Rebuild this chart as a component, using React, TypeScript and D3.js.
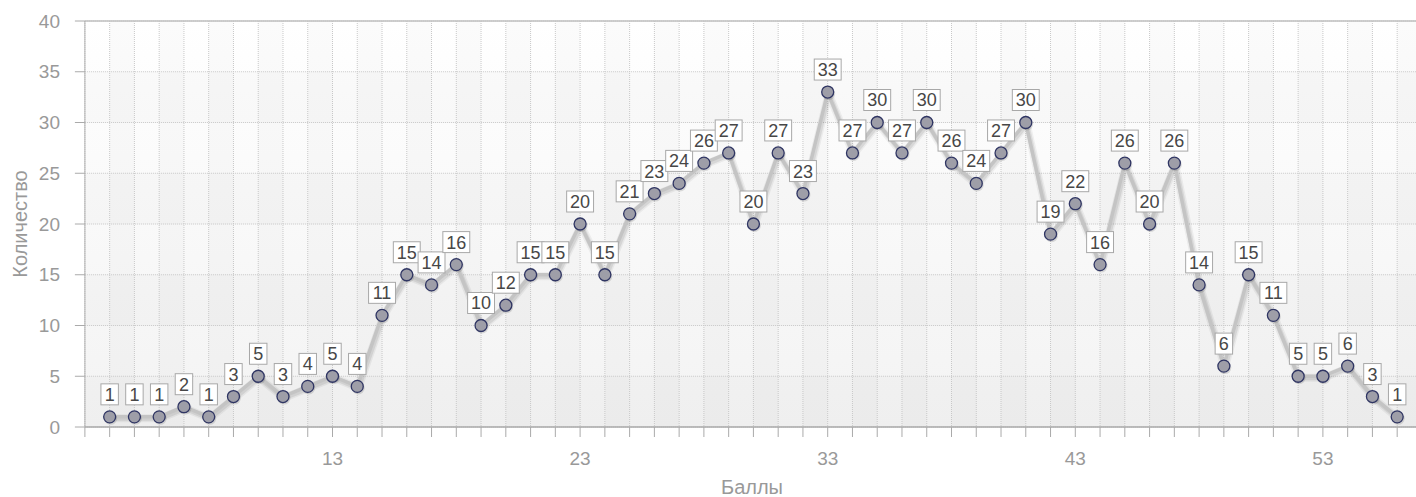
import React from "react";
import * as d3 from "d3";

const scores = [4, 5, 6, 7, 8, 9, 10, 11, 12, 13, 14, 15, 16, 17, 18, 19, 20, 21, 22, 23, 24, 25, 26, 27, 28, 29, 30, 31, 32, 33, 34, 35, 36, 37, 38, 39, 40, 41, 42, 43, 44, 45, 46, 47, 48, 49, 50, 51, 52, 53, 54, 55, 56];
const counts = [1, 1, 1, 2, 1, 3, 5, 3, 4, 5, 4, 11, 15, 14, 16, 10, 12, 15, 15, 20, 15, 21, 23, 24, 26, 27, 20, 27, 23, 33, 27, 30, 27, 30, 26, 24, 27, 30, 19, 22, 16, 26, 20, 26, 14, 6, 15, 11, 5, 5, 6, 3, 1];
const yTicks = [0, 5, 10, 15, 20, 25, 30, 35, 40];
const xTickLabels = [13, 23, 33, 43, 53];
const xGrid = [3, 4, 5, 6, 7, 8, 9, 10, 11, 12, 13, 14, 15, 16, 17, 18, 19, 20, 21, 22, 23, 24, 25, 26, 27, 28, 29, 30, 31, 32, 33, 34, 35, 36, 37, 38, 39, 40, 41, 42, 43, 44, 45, 46, 47, 48, 49, 50, 51, 52, 53, 54, 55, 56, 57];
const yTitle = "Количество";
const xTitle = "Баллы";

const W = 1416;
const H = 497;
const FONT = "'Liberation Sans', Arial, sans-serif";

export default function App() {
  const x = d3.scaleLinear().domain([3, 57]).range([84.9, 84.9 + 54 * 24.76]);
  const y = d3.scaleLinear().domain([0, 40]).range([427, 21]);
  const left = x(3);
  const right = x(57);
  const top = y(40);
  const bottom = y(0);

  const pts = scores.map((s, i) => [x(s), y(counts[i])] as [number, number]);
  const line = d3.line<[number, number]>()(pts) || "";

  const textW = (v: number) => String(v).length * 9.45 + 8;

  return (
    <svg
      width={W}
      height={H}
      style={{ position: "absolute", left: 0, top: 0, fontFamily: FONT }}
    >
      <defs>
        <linearGradient id="bg" x1="0" y1="0" x2="0" y2="1">
          <stop offset="0" stopColor="#ffffff" />
          <stop offset="1" stopColor="#f3f3f3" />
        </linearGradient>
        <clipPath id="plotclip">
          <rect x={left} y={top} width={right - left} height={bottom - top} />
        </clipPath>
      </defs>
      <rect x={0} y={0} width={W} height={H} fill="#ffffff" />
      <rect x={left} y={top} width={right - left} height={bottom - top} fill="url(#bg)" />
      {/* horizontal bands */}
      {yTicks.slice(0, -1).map((t, i) =>
        i % 2 === 0 ? (
          <rect key={"hb" + t} x={left} y={y(t + 5)} width={right - left} height={y(t) - y(t + 5)} fill="rgba(0,0,0,0.015)" />
        ) : null
      )}
      {/* vertical bands */}
      {xGrid.slice(0, -1).map((g, i) =>
        i % 2 === 1 ? (
          <rect key={"vb" + g} x={x(g)} y={top} width={x(g + 1) - x(g)} height={bottom - top} fill="rgba(0,0,0,0.015)" />
        ) : null
      )}
      {/* grid lines */}
      {yTicks.map((t) => (
        <line key={"hg" + t} x1={left} x2={right} y1={y(t)} y2={y(t)} stroke="#c8c8c8" strokeWidth={1} strokeDasharray="1,1" />
      ))}
      {xGrid.map((g) => (
        <line key={"vg" + g} x1={x(g)} x2={x(g)} y1={top} y2={bottom} stroke="#c8c8c8" strokeWidth={1} strokeDasharray="1,1" />
      ))}
      {/* axes */}
      <line x1={left} x2={right} y1={top} y2={top} stroke="#c0c0c0" strokeWidth={1.5} />
      <line x1={left} x2={left} y1={top} y2={bottom} stroke="#b0b0b0" strokeWidth={1} />
      <line x1={left} x2={right} y1={bottom} y2={bottom} stroke="#aaaaaa" strokeWidth={1.5} />
      {yTicks.map((t) => (
        <g key={"yt" + t}>
          <line x1={left - 10} x2={left} y1={y(t)} y2={y(t)} stroke="#aaaaaa" strokeWidth={1} />
          <text x={60} y={y(t)} dy="0.35em" textAnchor="end" fontSize={19} fill="#999999">
            {t}
          </text>
        </g>
      ))}
      {xGrid.map((g) => (
        <line key={"xt" + g} x1={x(g)} x2={x(g)} y1={bottom} y2={bottom + 10} stroke="#aaaaaa" strokeWidth={1} />
      ))}
      {xTickLabels.map((t) => (
        <text key={"xl" + t} x={x(t)} y={458} dy="0.35em" textAnchor="middle" fontSize={19} fill="#999999">
          {t}
        </text>
      ))}
      <text x={752} y={487} dy="0.35em" textAnchor="middle" fontSize={20} fill="#999999">
        {xTitle}
      </text>
      <text transform={`translate(20,${(top + bottom) / 2}) rotate(-90)`} dy="0.35em" textAnchor="middle" fontSize={20} fill="#999999">
        {yTitle}
      </text>
      {/* series */}
      <g clipPath="url(#plotclip)">
        <path d={line} fill="none" stroke="rgba(0,0,0,0.05)" strokeWidth={8} transform="translate(1,1.5)" strokeLinejoin="round" />
        <path d={line} fill="none" stroke="rgba(0,0,0,0.08)" strokeWidth={5} transform="translate(1,1.5)" strokeLinejoin="round" />
        <path d={line} fill="none" stroke="#c4c4c4" strokeWidth={3.5} strokeLinejoin="round" />
      </g>
      {pts.map(([px, py], i) => (
        <g key={"m" + i}>
          <circle cx={px + 1} cy={py + 1.5} r={6.5} fill="rgba(0,0,0,0.12)" />
          <circle cx={px} cy={py} r={6} fill="#9e9ea8" stroke="#2f3563" strokeWidth={1.3} />
        </g>
      ))}
      {pts.map(([px, py], i) => {
        const w = textW(counts[i]);
        return (
          <g key={"l" + i}>
            <rect x={px - w / 2} y={py - 33} width={w} height={21} fill="#ffffff" stroke="#a8a8a8" strokeWidth={1} />
            <text x={px} y={py - 22.5} dy="0.36em" textAnchor="middle" fontSize={18} fill="#474747">
              {counts[i]}
            </text>
          </g>
        );
      })}
    </svg>
  );
}
